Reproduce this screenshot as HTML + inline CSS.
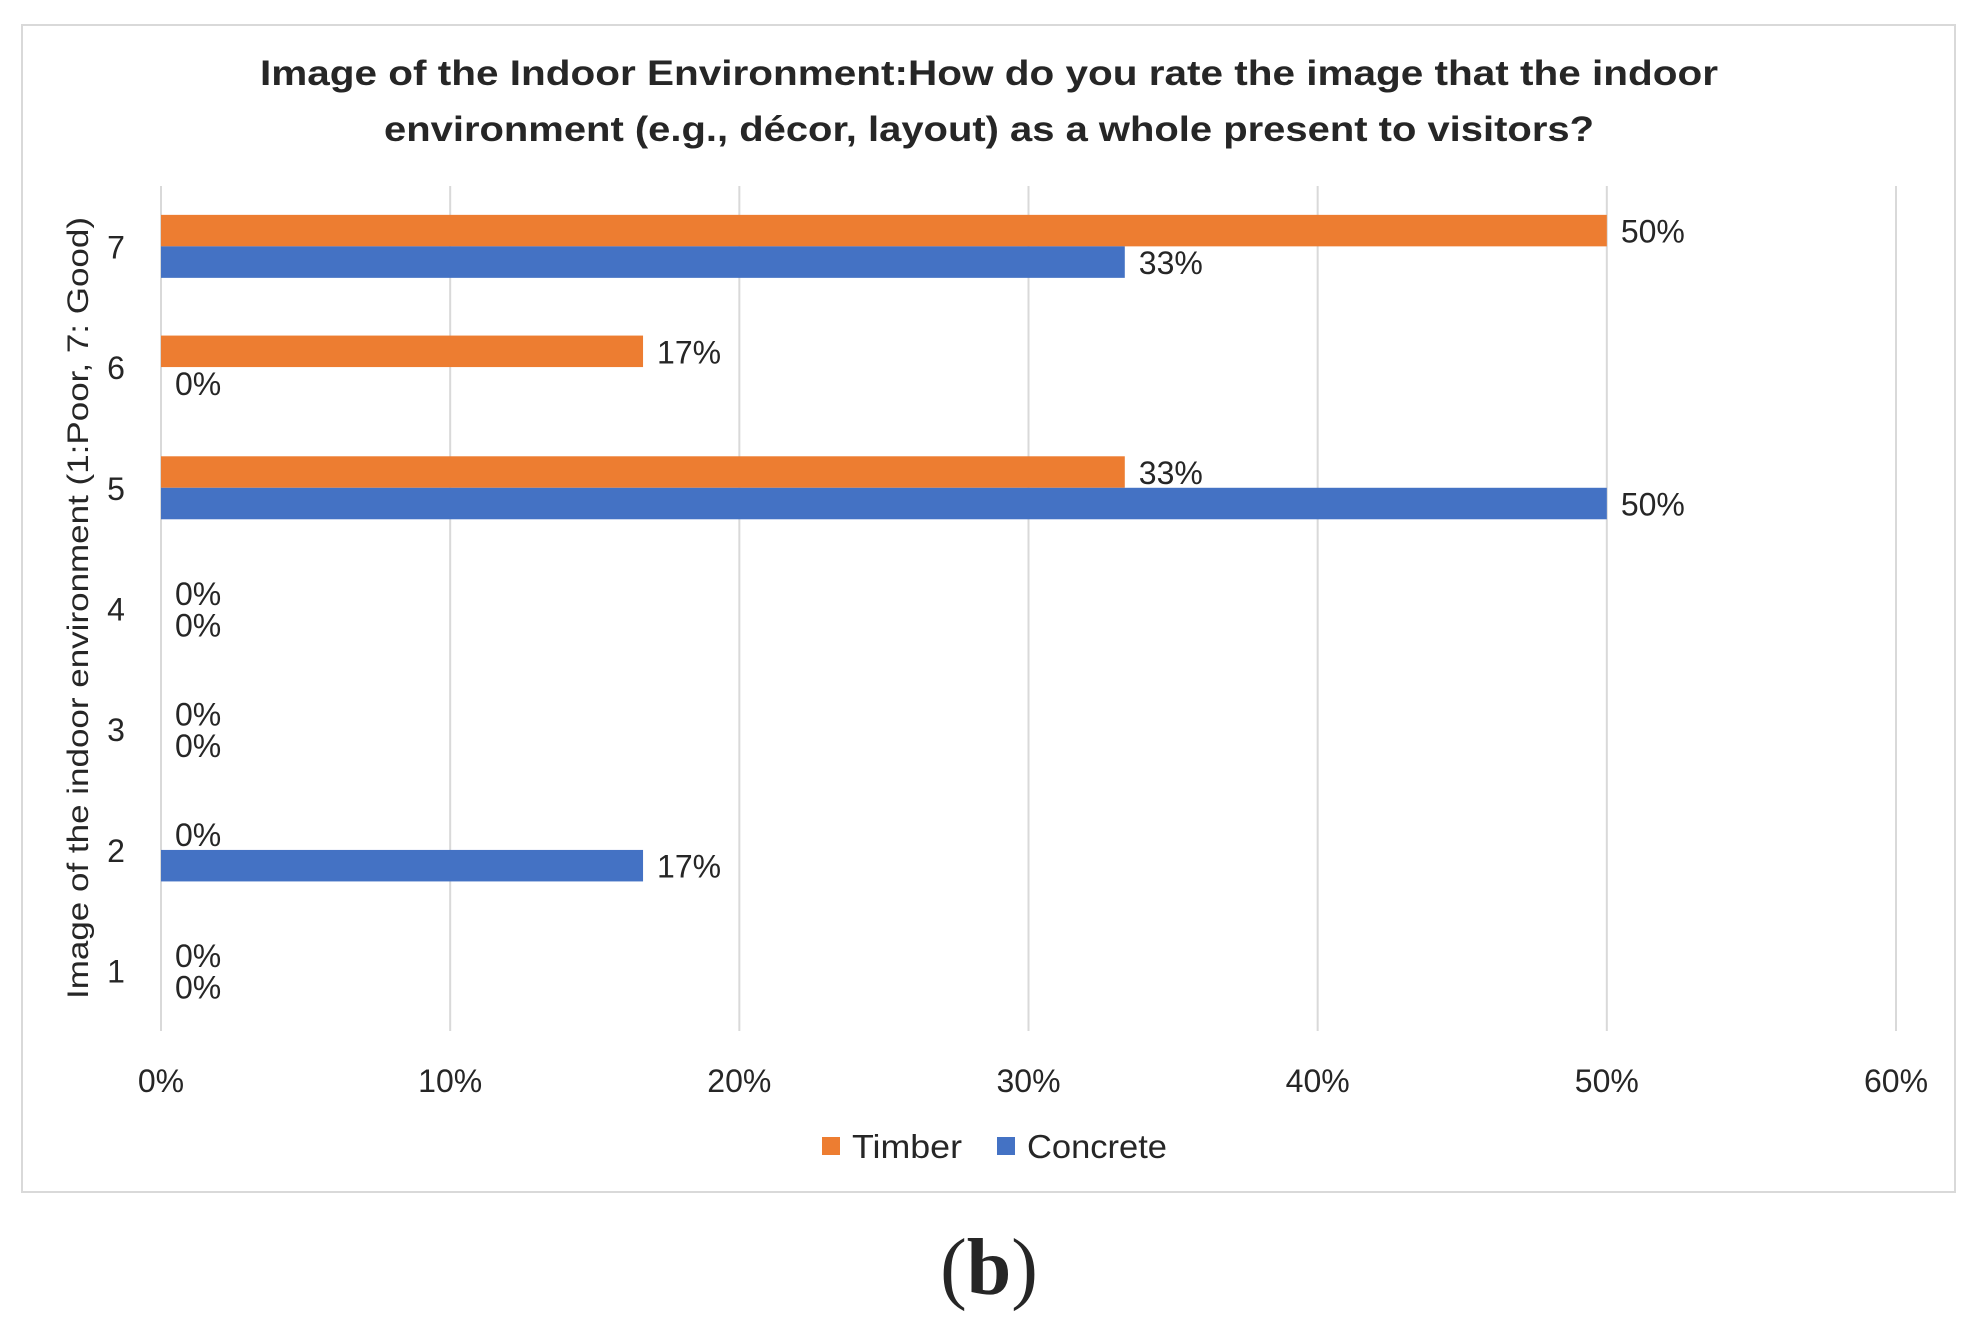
<!DOCTYPE html>
<html><head><meta charset="utf-8"><style>
html,body{margin:0;padding:0;background:#fff;}
svg{display:block;}
text{font-family:"Liberation Sans",sans-serif;fill:#262626;}
</style></head><body>
<svg id="chart" width="1971" height="1335" viewBox="0 0 1971 1335">
<rect x="22" y="25" width="1933" height="1167" fill="#fff" stroke="#d9d9d9" stroke-width="2"/>
<text x="989" y="85" text-anchor="middle" font-size="35" font-weight="bold" textLength="1458" lengthAdjust="spacingAndGlyphs">Image of the Indoor Environment:How do you rate the image that the indoor</text>
<text x="989" y="141" text-anchor="middle" font-size="35" font-weight="bold" textLength="1210" lengthAdjust="spacingAndGlyphs">environment (e.g., décor, layout) as a whole present to visitors?</text>
<g id="grid"></g>
<g id="bars"></g>
<g id="labels"></g>
<text transform="translate(88,608) rotate(-90)" text-anchor="middle" font-size="30" textLength="782" lengthAdjust="spacingAndGlyphs">Image of the indoor environment (1:Poor, 7: Good)</text>
<rect x="822" y="1137" width="18" height="18" fill="#ed7d31"/>
<text x="852" y="1158" font-size="33" textLength="110" lengthAdjust="spacingAndGlyphs">Timber</text>
<rect x="997" y="1137" width="18" height="18" fill="#4472c4"/>
<text x="1027" y="1158" font-size="33" textLength="140" lengthAdjust="spacingAndGlyphs">Concrete</text>
<text x="989" y="1294" text-anchor="middle" font-size="80" style="font-family:'Liberation Serif',serif" fill="#000">(<tspan font-weight="bold">b</tspan>)</text>
</svg>
<script>
const categories = ['1','2','3','4','5','6','7'];
const timber = [0, 0, 0, 0, 33.33, 16.67, 50];
const concrete = [0, 16.67, 0, 0, 50, 0, 33.33];
const timberLabels = ['0%','0%','0%','0%','33%','17%','50%'];
const concreteLabels = ['0%','17%','0%','0%','50%','0%','33%'];
const xTicks = [0, 10, 20, 30, 40, 50, 60];

const NS = 'http://www.w3.org/2000/svg';
const x0 = 161, x1 = 1896, xMax = 60;
const yTop = 186, yBottom = 1031;
const band = (yBottom - yTop) / categories.length;
const barH = 31.5;
function xs(v){ return x0 + (v / xMax) * (x1 - x0); }
function bandCenter(i){ return yBottom - band * (i + 0.5); }
function mk(tag, attrs, parent){ const e = document.createElementNS(NS, tag); for (const k in attrs) e.setAttribute(k, attrs[k]); parent.appendChild(e); return e; }

const grid = document.getElementById('grid');
xTicks.forEach((t) => {
  const l = mk('line', {x1: xs(t), x2: xs(t), y1: yTop, y2: yBottom, stroke: '#d9d9d9', 'stroke-width': 2}, grid);
  
  
  const tx = mk('text', {x: xs(t), y: 1092, 'text-anchor': 'middle', 'font-size': 32}, grid);
  tx.textContent = t + '%';
  
  
});

const bars = document.getElementById('bars');
const labels = document.getElementById('labels');
categories.forEach((c, i) => {
  const cy = bandCenter(i);
  const ct = mk('text', {x: 116, y: cy + 12, 'text-anchor': 'middle', 'font-size': 32}, labels);
  ct.textContent = c;
  
  

  const tb = mk('rect', {x: x0, y: cy - barH, width: xs(timber[i]) - x0, height: barH, fill: '#ed7d31'}, bars);
  
  
  const cb = mk('rect', {x: x0, y: cy, width: xs(concrete[i]) - x0, height: barH, fill: '#4472c4'}, bars);
  
  

  const tl = mk('text', {x: xs(timber[i]) + 14, y: cy - barH / 2 + 12, 'font-size': 32}, labels);
  tl.textContent = timberLabels[i];
  
  
  const cl = mk('text', {x: xs(concrete[i]) + 14, y: cy + barH / 2 + 12, 'font-size': 32}, labels);
  cl.textContent = concreteLabels[i];
  
  
});
</script>
</body></html>
